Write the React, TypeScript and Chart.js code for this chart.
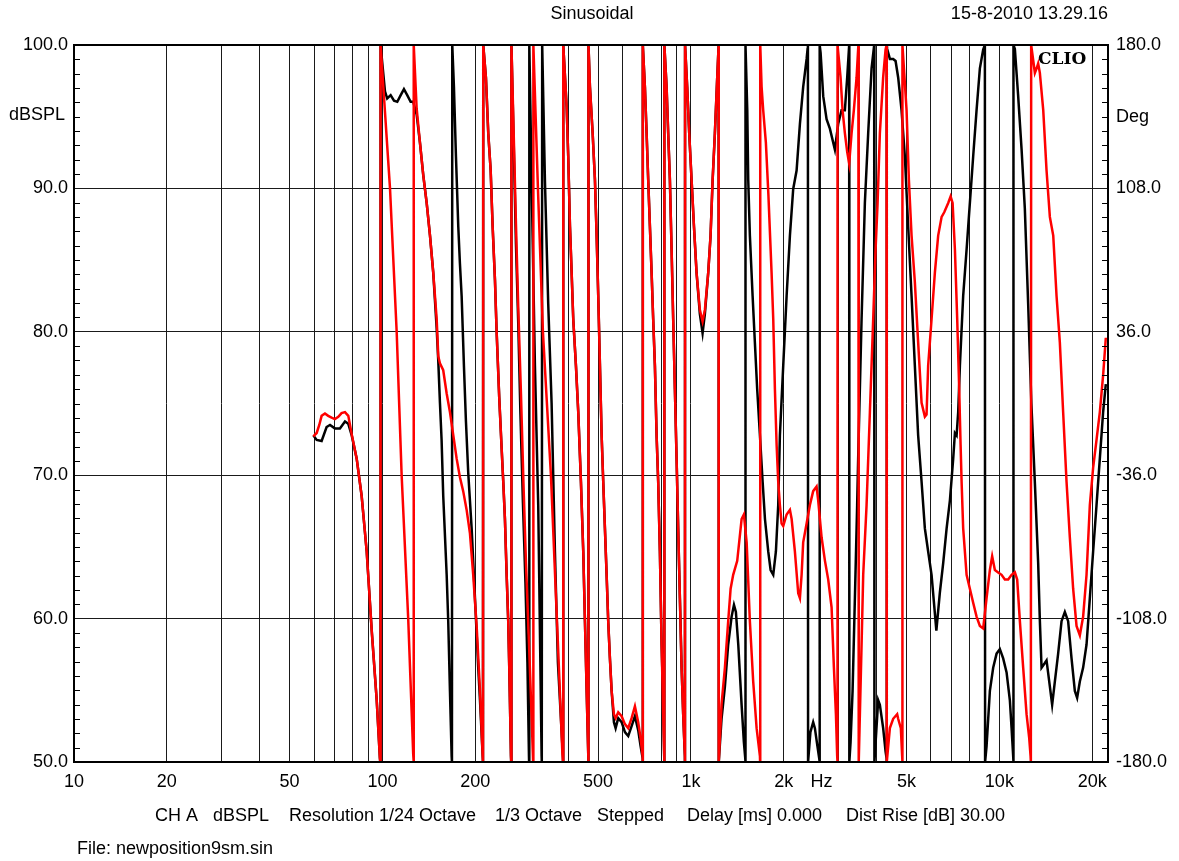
import React, { useEffect, useRef } from "react";
import { Chart, registerables } from "chart.js";

Chart.register(...registerables);

// ---- data: [frequency Hz, phase deg] ----
const blackPhase: [number, number][] = [
  [59.7, -16], [61.2, -18.3], [63.5, -18.8], [65.9, -11.8], [67.6, -10.8], [70.1, -12.5], [72.8, -12.5],
  [75.6, -9], [77.5, -10.2], [79.5, -16], [82.5, -27.7], [85.6, -46.3], [88.9, -74.3], [92.3, -114],
  [95.8, -149], [98.1, -178], [98.4, -180], [98.6, 180], [101.9, 156.7], [103.6, 153.2], [106.3, 154.8],
  [109.0, 152], [111.7, 151.5], [114.6, 154.8], [117.4, 157.8], [120.3, 154.8], [123.4, 151.5],
  [125.8, 151.5], [129.1, 145], [132.3, 131], [135.6, 114.7], [139.1, 100.7], [142.6, 84.3], [146.1, 65.7],
  [149.9, 37.7], [151.7, 21.3], [153.6, 0.3], [155.5, -18.3], [157.4, -46.3], [161.5, -86], [163.4, -109.3],
  [165.5, -144.3], [167.6, -177], [168.0, -180], [168.4, 180], [170.5, 159], [173.1, 124], [176.1, 89],
  [178.3, 70.3], [180.6, 54], [183.7, 19], [186.5, -9], [189.7, -34.7], [194.6, -62.7], [199.5, -97.7],
  [204.4, -132.6], [207.1, -149], [211.3, -177], [211.8, -180], [212.2, 180], [216.5, 163.7], [220.3, 135.7],
  [224.3, 117], [227.6, 89], [231.6, 62], [234.5, 36], [239.1, 3], [243.5, -23], [246.4, -39.3], [249.5, -58],
  [252.7, -86], [255.7, -109.3], [257.7, -132.6], [261.0, -177], [261.5, -180], [261.9, 180], [266.9, 125],
  [270.9, 80], [275.6, 40], [280.1, -5], [285.4, -50], [290.8, -90], [295.1, -130], [298.5, -177],
  [298.8, -180], [299.3, 180], [304.5, 112], [312.1, 19], [319.9, -51], [328.1, -177], [328.5, -180],
  [329.5, 180], [336.3, 112], [344.7, 50], [353.5, 0], [362.3, -74], [370.5, -130], [384.6, -177],
  [385.0, -180], [385.6, 180], [395.5, 149], [400.2, 124], [405.4, 89], [410.5, 65.7], [415.5, 42.3],
  [423.9, 19], [431.3, -4.3], [440.0, -39.3], [447.7, -74.3], [453.4, -109.3], [459.2, -144.3], [464.7, -176],
  [465.2, -180], [465.8, 180], [470.6, 159], [480.2, 135.7], [488.5, 112.3], [494.7, 84.3], [500.7, 54],
  [507.1, 19], [513.5, -16], [519.7, -39.3], [526.3, -62.7], [533.0, -86], [539.4, -109.3], [546.3, -128],
  [553.3, -144.3], [562.9, -160], [570.1, -163], [581.2, -158], [596.2, -160], [611.0, -165], [626.3, -167],
  [642.3, -162], [658.4, -157], [674.7, -164], [686.9, -172], [697.3, -178], [698.0, -180], [698.6, 180],
  [709.3, 159], [718.4, 135.7], [727.0, 112.3], [736.3, 89], [745.7, 65.7], [754.6, 42.3], [764.3, 19],
  [774.0, -16], [783.3, -39.3], [793.3, -74.3], [803.5, -121], [813.1, -150], [819.2, -176], [819.8, -180],
  [820.5, 180], [834.0, 159], [844.0, 135.7], [854.8, 112.3], [865.7, 77.3], [876.1, 42.3], [887.3, 7.3],
  [898.6, -27.7], [909.4, -62.7], [921.0, -97.7], [932.8, -132.7], [944.0, -156], [956.0, -177], [956.6, -180],
  [957.3, 180], [972.6, 159], [987.4, 135.7], [1005, 112.3], [1023, 89], [1043, 65.7], [1069, 45],
  [1091, 35.3], [1110, 45], [1138, 65.7], [1158, 84.3], [1176, 112.3], [1196, 135.7], [1217, 163.7],
  [1230, 180], [1231, -180], [1257, -158.3], [1289, -142], [1321, -121], [1355, -107], [1379, -101.1],
  [1399, -104.7], [1424, -121], [1460, -151.3], [1485, -170], [1500, -178], [1502, -180], [1504, 180],
  [1523, 147.3], [1534, 112.3], [1553, 84.3], [1585, 54], [1612, 30.7], [1640, 7.3], [1674, -16],
  [1708, -39.3], [1738, -58], [1781, -74.3], [1813, -83.6], [1849, -86], [1886, -74.3], [1919, -51],
  [1943, -16], [1992, 19], [2043, 54], [2094, 84.3], [2146, 107.7], [2201, 117], [2256, 140.3], [2312, 159],
  [2372, 173], [2389, 178], [2395, 180], [2398, -180], [2440, -165], [2491, -160], [2523, -163], [2571, -172],
  [2605, -178], [2612, -180], [2618, 180], [2633, 176], [2685, 154.3], [2753, 142.7], [2822, 138],
  [2929, 127.5], [3002, 140.3], [3079, 147.3], [3156, 147.3], [3211, 163.7], [3259, 180], [3263, -180],
  [3293, -170], [3343, -144.3], [3401, -97.7], [3459, -51], [3485, -27.7], [3575, 42.3], [3664, 100.7],
  [3756, 135.7], [3852, 168.3], [3928, 180], [3935, -180], [4047, -149], [4098, -151.3], [4200, -163],
  [4276, -174.6], [4308, -178], [4312, -180], [4318, 180], [4328, 178], [4416, 173], [4526, 173], [4608, 172],
  [4698, 163.7], [4818, 147.3], [4939, 124], [5062, 89], [5192, 54], [5321, 19], [5454, -16], [5595, -39.3],
  [5734, -62.7], [5877, -74.3], [6028, -86], [6248, -114], [6413, -95], [6576, -80], [6745, -62.7],
  [6913, -48.6], [7085, -27.7], [7176, -14.8], [7267, -16], [7354, -4.3], [7448, 19], [7633, 54],
  [7829, 77.3], [8024, 100.7], [8224, 124], [8435, 147.3], [8646, 168.3], [8862, 177.7], [8975, 180],
  [8990, -180], [9089, -172], [9316, -144.3], [9548, -132.7], [9794, -125.6], [10038, -123.3], [10288, -128],
  [10553, -135], [10815, -149], [10954, -163], [11085, -177], [11100, -180], [11120, 180], [11227, 178],
  [11500, 155], [11800, 128], [12093, 98], [12398, 50], [12698, 0], [13036, -40], [13359, -80], [13529, -109],
  [13701, -132.7], [14043, -130.3], [14222, -129], [14577, -142], [14829, -151.3], [15131, -139.6],
  [15508, -125.6], [15906, -109.3], [16303, -104.7], [16709, -109.3], [17139, -128], [17566, -144.3],
  [17870, -147.8], [18234, -139.6], [18689, -132.6], [19169, -121], [19647, -97.7], [20136, -74.3],
  [20653, -51], [21168, -27.7], [21695, -4.3], [22137, 9.7],
];

const redPhase: [number, number][] = [
  [59.7, -16.5], [61.2, -14.8], [62.4, -10.8], [63.5, -6.2], [65.1, -5], [66.7, -6.2], [68.4, -7.1],
  [70.1, -7.8], [71.9, -6.7], [73.7, -4.8], [75.6, -4.3], [77.5, -6.2], [79.5, -15.5], [82.5, -27.7],
  [85.6, -46.3], [88.9, -74.3], [92.3, -114], [95.8, -149], [98.1, -178], [98.4, -180], [98.6, 180],
  [105.8, 108], [111.2, 36], [115.4, -36], [121.2, -108], [125.8, -176], [126.1, -180], [126.5, 180],
  [129.1, 148], [132.3, 131], [135.6, 114.7], [139.1, 100.7], [142.6, 84.3], [146.1, 65.7], [149.9, 42.3],
  [151.7, 23.7], [153.6, 20.2], [157.4, 16.7], [161.5, 5], [165.5, -4.3], [169.7, -16], [174.0, -27.7],
  [178.3, -37], [182.7, -44], [187.4, -53.3], [192.1, -65], [196.9, -86], [202.0, -111.7], [207.1, -144.3],
  [211.3, -177], [211.8, -180], [212.2, 180], [216.5, 163.7], [220.3, 135.7], [224.3, 117], [227.6, 89],
  [231.6, 62], [234.5, 36], [239.1, 3], [243.5, -23], [246.4, -39.3], [249.5, -58], [252.7, -86],
  [255.7, -109.3], [257.7, -132.6], [261.0, -177], [261.5, -180], [261.9, 180], [266.9, 130], [270.9, 90],
  [275.6, 48], [281.2, 5], [286.5, -40], [291.9, -80], [298.5, -120], [304.1, -155], [307.5, -177],
  [307.9, -180], [308.5, 180], [319.2, 108], [331.3, 36], [351.7, -36], [367.7, -108], [383.2, -176],
  [385.0, -180], [385.6, 180], [395.5, 149], [400.2, 124], [405.4, 89], [410.5, 65.7], [415.5, 42.3],
  [423.9, 19], [431.3, -4.3], [440.0, -39.3], [447.7, -74.3], [453.4, -109.3], [459.2, -144.3], [464.7, -176],
  [465.2, -180], [465.8, 180], [470.6, 159], [480.2, 135.7], [488.5, 112.3], [494.7, 84.3], [500.7, 54],
  [507.1, 19], [513.5, -16], [519.7, -39.3], [526.3, -62.7], [533.0, -86], [539.4, -109.3], [546.3, -128],
  [553.3, -144.3], [562.9, -156], [570.1, -158], [581.2, -155], [596.2, -157], [611.0, -161], [626.3, -163],
  [642.3, -158], [658.4, -152], [674.7, -160], [686.9, -168], [697.3, -177], [698.0, -180], [698.6, 180],
  [709.3, 159], [718.4, 135.7], [727.0, 112.3], [736.3, 89], [745.7, 65.7], [754.6, 42.3], [764.3, 19],
  [774.0, -16], [783.3, -39.3], [793.3, -74.3], [803.5, -121], [813.1, -156], [819.2, -177], [819.8, -180],
  [820.5, 180], [834.0, 159], [844.0, 135.7], [854.8, 112.3], [865.7, 77.3], [876.1, 42.3], [887.3, 7.3],
  [898.6, -27.7], [909.4, -62.7], [921.0, -97.7], [932.8, -132.7], [944.0, -156], [956.0, -177], [956.6, -180],
  [957.3, 180], [972.6, 159], [987.4, 135.7], [1005, 112.3], [1023, 89], [1043, 65.7], [1069, 47],
  [1091, 41.2], [1110, 47], [1138, 65.7], [1158, 84.3], [1176, 112.3], [1196, 135.7], [1217, 163.7],
  [1230, 180], [1231, -180], [1257, -151], [1289, -132.6], [1321, -109.3], [1345, -93], [1371, -86],
  [1413, -79], [1460, -58], [1485, -55.7], [1516, -69.7], [1553, -109.3], [1592, -139.6], [1633, -163],
  [1674, -177], [1676, -180], [1678, 180], [1695, 159], [1716, 147], [1750, 131], [1783, 105], [1826, 65.7],
  [1849, 42.3], [1872, 7.3], [1896, -20.7], [1919, -39.3], [1943, -51], [1968, -60.3], [1992, -61.5],
  [2043, -55.7], [2094, -53.4], [2121, -58], [2173, -74.3], [2228, -95.3], [2256, -97.7], [2285, -86],
  [2312, -69.7], [2372, -60.3], [2431, -51], [2491, -44], [2555, -41.7], [2586, -48.6], [2653, -67.3],
  [2720, -79], [2787, -88.4], [2858, -102.3], [2908, -132.6], [2952, -156], [2980, -177], [2985, -180],
  [2990, 180], [3056, 163.7], [3102, 147.3], [3156, 135.7], [3211, 126.4], [3259, 120.5], [3318, 135.7],
  [3375, 147.3], [3444, 163.7], [3491, 180], [3500, -180], [3575, -121], [3619, -86], [3711, -51],
  [3804, -4.3], [3899, 42.3], [3969, 77.3], [4029, 100.7], [4098, 135.7], [4200, 163.7], [4276, 177.7],
  [4308, 180], [4315, -180], [4416, -163], [4526, -158.3], [4663, -156], [4698, -158.3], [4793, -163],
  [4840, -177], [4845, -180], [4855, 180], [5002, 147.3], [5089, 112.3], [5192, 84.3], [5321, 61],
  [5454, 30.7], [5595, 0.3], [5734, -6.6], [5807, -5.5], [5877, 19], [6028, 42.3], [6179, 65.7],
  [6333, 84.3], [6498, 93.7], [6626, 96], [6826, 100.7], [6949, 104], [7053, 100.7], [7176, 77.3],
  [7300, 42.3], [7409, 7.3], [7487, -20.7], [7543, -39.3], [7633, -62.7], [7829, -86], [8024, -93],
  [8224, -100], [8435, -107], [8646, -111.7], [8862, -112.9], [9089, -97.7], [9316, -83.6], [9477, -76.7],
  [9670, -83.6], [9911, -84.8], [10166, -86], [10420, -88.4], [10680, -88.4], [10954, -86], [11227, -84.8],
  [11422, -88.4], [11654, -109.3], [11945, -132.6], [12250, -156], [12491, -167.7], [12622, -177],
  [12650, -180], [12680, 180], [13036, 166], [13208, 168.3], [13359, 170.7], [13529, 166], [13875, 147.3],
  [14222, 117], [14577, 93.7], [14951, 84.3], [15324, 54], [15705, 30.7], [16097, -4.3], [16511, -39.3],
  [16923, -67.3], [17345, -93], [17790, -111.7], [18234, -116.4], [18689, -107], [19169, -86],
  [19647, -51], [20136, -32.3], [20653, -18.3], [21168, -4.3], [21695, 14.3], [22137, 33],
];

// ---- axes / labels ----
const xGridValues = [
  10, 20, 30, 40, 50, 60, 70, 80, 90, 100, 200, 300, 400, 500, 600, 700, 800, 900,
  1000, 2000, 3000, 4000, 5000, 6000, 7000, 8000, 9000, 10000, 20000,
];
const xLabelValues = [10, 20, 50, 100, 200, 500, 1000, 2000, 5000, 10000, 20000];
const xLabelTexts = ["10", "20", "50", "100", "200", "500", "1k", "2k", "5k", "10k", "20k"];
const xUnitLabel = "Hz";
const xUnitAt = 2650;
const xMin = 10;
const xMax = 22500;
const dbMin = 50;
const dbMax = 100;
const dbStep = 10;
const degMin = -180;
const degMax = 180;
const degStep = 72;
const titleText = "Sinusoidal";
const dateText = "15-8-2010 13.29.16";
const leftUnit = "dBSPL";
const rightUnit = "Deg";
const brandText = "CLIO";
const infoTexts: [string, number][] = [
  ["CH A", 155],
  ["dBSPL", 213],
  ["Resolution 1/24 Octave", 289],
  ["1/3 Octave", 495],
  ["Stepped", 597],
  ["Delay [ms] 0.000", 687],
  ["Dist Rise [dB] 30.00", 846],
];
const fileText = "File: newposition9sm.sin";

const FONT = 'Arial, "Liberation Sans", Helvetica, sans-serif';

const overlayPlugin = {
  id: "clioOverlay",
  afterDraw(chart: any) {
    const { ctx, chartArea } = chart;
    const { left, top, right, bottom } = chartArea;
    const yL = chart.scales.y;
    const yR = chart.scales.y2;
    const xs = chart.scales.x;
    ctx.save();
    ctx.strokeStyle = "#000";
    ctx.lineWidth = 1;
    ctx.beginPath();
    for (let v = dbMin + 1; v < dbMax; v++) {
      if (v % dbStep === 0) continue;
      const py = Math.round(yL.getPixelForValue(v)) + 0.5;
      ctx.moveTo(left, py);
      ctx.lineTo(left + 6, py);
    }
    for (let k = 1; k < 50; k++) {
      if (k % 10 === 0) continue;
      const v = degMin + (degStep / 10) * k;
      const py = Math.round(yR.getPixelForValue(v)) + 0.5;
      ctx.moveTo(right - 6, py);
      ctx.lineTo(right, py);
    }
    ctx.stroke();
    ctx.lineWidth = 2;
    ctx.strokeRect(left, top, right - left, bottom - top);

    ctx.fillStyle = "#000";
    ctx.font = `18px ${FONT}`;
    ctx.textBaseline = "middle";
    ctx.textAlign = "center";
    ctx.fillText(titleText, 592, 14);
    ctx.fillText(xUnitLabel, xs.getPixelForValue(xUnitAt), 782);
    ctx.textAlign = "right";
    ctx.fillText(dateText, right, 14);
    ctx.textAlign = "left";
    ctx.fillText(leftUnit, 9, 115);
    ctx.fillText(rightUnit, right + 8, 117);
    for (const [t, x] of infoTexts) ctx.fillText(t, x, 816);
    ctx.fillText(fileText, 77, 849);
    ctx.font = `bold 17px "DejaVu Serif", "Liberation Serif", serif`;
    ctx.fillText(brandText, right - 70, 60);
    ctx.restore();
  },
};

export default function App() {
  const canvasRef = useRef<HTMLCanvasElement | null>(null);

  useEffect(() => {
    const canvas = canvasRef.current;
    if (!canvas) return;
    const chart = new Chart(canvas, {
      type: "line",
      data: {
        datasets: [
          {
            label: "red",
            data: redPhase.map(([f, d]) => ({ x: f, y: d })),
            borderColor: "#ff0000",
            borderWidth: 2.5,
            pointRadius: 0,
            tension: 0,
            fill: false,
            yAxisID: "y2",
          },
          {
            label: "black",
            data: blackPhase.map(([f, d]) => ({ x: f, y: d })),
            borderColor: "#000000",
            borderWidth: 2.5,
            pointRadius: 0,
            tension: 0,
            fill: false,
            yAxisID: "y2",
          },
        ],
      },
      options: {
        responsive: false,
        animation: false,
        devicePixelRatio: 1,
        parsing: false as any,
        normalized: true,
        layout: { padding: { left: 0, right: 0, top: 45, bottom: 0 } },
        plugins: {
          legend: { display: false },
          tooltip: { enabled: false },
          title: { display: false },
        },
        events: [],
        scales: {
          x: {
            type: "logarithmic",
            position: "bottom",
            min: xMin,
            max: xMax,
            afterBuildTicks: (scale: any) => {
              scale.ticks = xGridValues.map((v) => ({ value: v }));
            },
            afterFit: (scale: any) => {
              scale.height = 99;
            },
            border: { display: false },
            grid: { color: "#1a1a1a", lineWidth: 1, drawTicks: false },
            ticks: {
              autoSkip: false,
              maxRotation: 0,
              minRotation: 0,
              padding: 9,
              color: "#000",
              font: { family: FONT, size: 18 },
              callback: (value: any) => {
                const i = xLabelValues.indexOf(Number(value));
                return i >= 0 ? xLabelTexts[i] : "";
              },
            },
          },
          y: {
            type: "linear",
            position: "left",
            min: dbMin,
            max: dbMax,
            afterFit: (scale: any) => {
              scale.width = 74;
            },
            border: { display: false },
            grid: { color: "#1a1a1a", lineWidth: 1, drawTicks: false },
            ticks: {
              stepSize: dbStep,
              padding: 6,
              color: "#000",
              font: { family: FONT, size: 18 },
              callback: (value: any) => Number(value).toFixed(1),
            },
          },
          y2: {
            type: "linear",
            position: "right",
            min: degMin,
            max: degMax,
            afterFit: (scale: any) => {
              scale.width = 71;
            },
            border: { display: false },
            grid: { display: false, drawTicks: false },
            ticks: {
              stepSize: degStep,
              padding: 8,
              color: "#000",
              font: { family: FONT, size: 18 },
              callback: (value: any) => Number(value).toFixed(1),
            },
          },
        },
      },
      plugins: [overlayPlugin],
    } as any);
    return () => chart.destroy();
  }, []);

  return (
    <div
      style={{
        position: "fixed",
        left: 0,
        top: 0,
        width: 1179,
        height: 861,
        background: "#ffffff",
      }}
    >
      <canvas ref={canvasRef} width={1179} height={861} style={{ display: "block" }} />
    </div>
  );
}
